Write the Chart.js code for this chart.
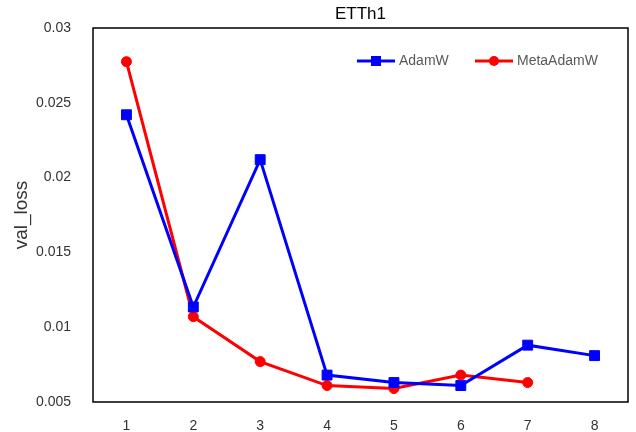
<!DOCTYPE html>
<html lang="en">
<head>
  <title>ETTh1</title>
  <script src="https://cdn.jsdelivr.net/npm/chart.js"></script>
  <style>
    html, body { margin: 0; padding: 0; background: #fff; }
    #wrap { width: 636px; height: 432px; }
  </style>
</head>
<body>
<div id="wrap"><canvas id="chart" width="636" height="432"></canvas></div>
<script>
  const epochs = ['1', '2', '3', '4', '5', '6', '7', '8'];
  const adamW = [0.0242, 0.01135, 0.0212, 0.0068, 0.0063, 0.0061, 0.0088, 0.0081];
  const metaAdamW = [0.02775, 0.0107, 0.0077, 0.0061, 0.0059, 0.0068, 0.0063, null];
  const yTicks = [0.005, 0.01, 0.015, 0.02, 0.025, 0.03];

  const FONT = 'Liberation Sans, Arial, sans-serif';

  // frame around plot area, title and in-plot legend
  const decor = {
    id: 'decor',
    afterDraw(chart) {
      const ctx = chart.ctx;
      const a = chart.chartArea;
      ctx.save();
      ctx.strokeStyle = '#000';
      ctx.lineWidth = 1.5;
      ctx.strokeRect(a.left, a.top, a.right - a.left, a.bottom - a.top);

      ctx.fillStyle = '#000';
      ctx.font = '17px ' + FONT;
      ctx.textAlign = 'center';
      ctx.textBaseline = 'middle';
      ctx.fillText('ETTh1', (a.left + a.right) / 2, 14);

      // legend
      const items = [{ ds: chart.data.datasets[0], x: 357 }, { ds: chart.data.datasets[1], x: 475 }];
      ctx.font = '14px ' + FONT;
      ctx.textAlign = 'left';
      items.forEach(it => {
        const y = 61;
        ctx.strokeStyle = it.ds.borderColor;
        ctx.lineWidth = 3;
        ctx.beginPath();
        ctx.moveTo(it.x, y);
        ctx.lineTo(it.x + 38, y);
        ctx.stroke();
        ctx.fillStyle = it.ds.borderColor;
        if (it.ds.pointStyle === 'rect') {
          ctx.fillRect(it.x + 19 - 5, y - 5, 10, 10);
        } else {
          ctx.beginPath();
          ctx.arc(it.x + 19, y, 5, 0, Math.PI * 2);
          ctx.fill();
        }
        ctx.fillStyle = '#595959';
        ctx.fillText(it.ds.label, it.x + 42, y);
      });
      ctx.restore();
    }
  };

  new Chart(document.getElementById('chart'), {
    type: 'line',
    data: {
      labels: epochs,
      datasets: [
        {
          label: 'AdamW',
          data: adamW,
          borderColor: '#0000FF',
          backgroundColor: '#0000FF',
          borderWidth: 3,
          pointStyle: 'rect',
          pointRadius: 7,
          pointHoverRadius: 7,
          pointBorderWidth: 1,
          tension: 0
        },
        {
          label: 'MetaAdamW',
          data: metaAdamW,
          borderColor: '#FF0000',
          backgroundColor: '#FF0000',
          borderWidth: 3,
          pointStyle: 'circle',
          pointRadius: 5,
          pointHoverRadius: 5,
          pointBorderWidth: 1,
          tension: 0
        }
      ]
    },
    options: {
      responsive: false,
      animation: false,
      layout: { padding: { top: 28, right: 2, left: 0, bottom: 0 } },
      plugins: {
        legend: { display: false },
        title: { display: false },
        tooltip: { enabled: false }
      },
      scales: {
        x: {
          offset: true,
          grid: { display: false },
          border: { display: false },
          ticks: { color: '#333', font: { family: FONT, size: 14 }, padding: 8 },
          afterFit(scale) { scale.height = 30; }
        },
        y: {
          min: 0.005,
          max: 0.03,
          grid: { display: false },
          border: { display: false },
          afterBuildTicks(scale) { scale.ticks = yTicks.map(v => ({ value: v })); },
          ticks: {
            color: '#333',
            font: { family: FONT, size: 14 },
            padding: 14,
            callback: v => String(+v.toFixed(3))
          },
          title: {
            display: true,
            text: 'val_loss',
            color: '#333',
            font: { family: FONT, size: 19 },
            padding: { top: 10, bottom: 0 }
          },
          afterFit(scale) { scale.width = 93; }
        }
      }
    },
    plugins: [decor]
  });
</script>
</body>
</html>
